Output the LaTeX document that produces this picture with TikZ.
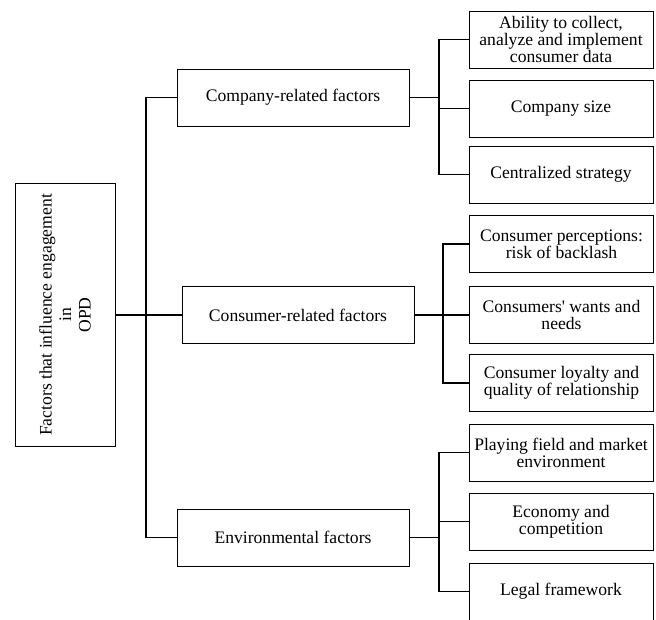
\documentclass[tikz,border=0pt]{standalone}
\usepackage{fontspec}
\setmainfont{Liberation Serif}[Ligatures=TeXOff]

\begin{document}
\begin{tikzpicture}[x=1pt, y=-1pt,
  every node/.style={draw, line width=0.9pt, align=center, inner sep=2pt, font=\fontsize{17.6}{17.2}\selectfont},
  rootbox/.style={rotate=90, minimum width=263pt, minimum height=100pt, font=\fontsize{17.6}{19.5}\selectfont},
  midbox/.style={minimum width=232pt, minimum height=57pt},
  leafbox/.style={minimum width=184pt, minimum height=57pt},
  link/.style={line width=1.4pt}]
\useasboundingbox (0,0) rectangle (656,620);
\node[rootbox] (root) at (65,315) {Factors that influence engagement\\in\\OPD};
\node[midbox] (C1) at (293,97.5) {Company-related factors};
\node[midbox] (C2) at (298,315) {Consumer-related factors};
\node[midbox] (C3) at (293,537.5) {Environmental factors};
\node[leafbox] (C1N1) at (561,39.5) {Ability to collect,\\analyze and implement\\consumer data};
\node[leafbox] (C1N2) at (561,108.5) {Company size};
\node[leafbox] (C1N3) at (561,174.5) {Centralized strategy};
\node[leafbox] (C2N1) at (561.5,244) {Consumer perceptions:\\risk of backlash};
\node[leafbox] (C2N2) at (561.5,315) {Consumers' wants and\\needs};
\node[leafbox] (C2N3) at (561.5,383) {Consumer loyalty and\\quality of relationship};
\node[leafbox] (C3N1) at (561,452.5) {Playing field and market\\environment};
\node[leafbox] (C3N2) at (561,521.5) {Economy and\\competition};
\node[leafbox] (C3N3) at (561,591.5) {Legal framework};
\coordinate (T) at (146,315);
\coordinate (B1) at (439,97.5);
\coordinate (B2) at (443,315);
\coordinate (B3) at (439,537.5);
\draw[link] (root) -- (T);
\draw[link] (C2) -- (T);
\draw[link] (C1) -| (T);
\draw[link] (C3) -| (T);
\foreach \g in {1,2,3} {
  \draw[link] (C\g) -- (B\g);
  \foreach \n in {1,2,3}
    \draw[link] (C\g N\n) -| (B\g);
}
\end{tikzpicture}
\end{document}
